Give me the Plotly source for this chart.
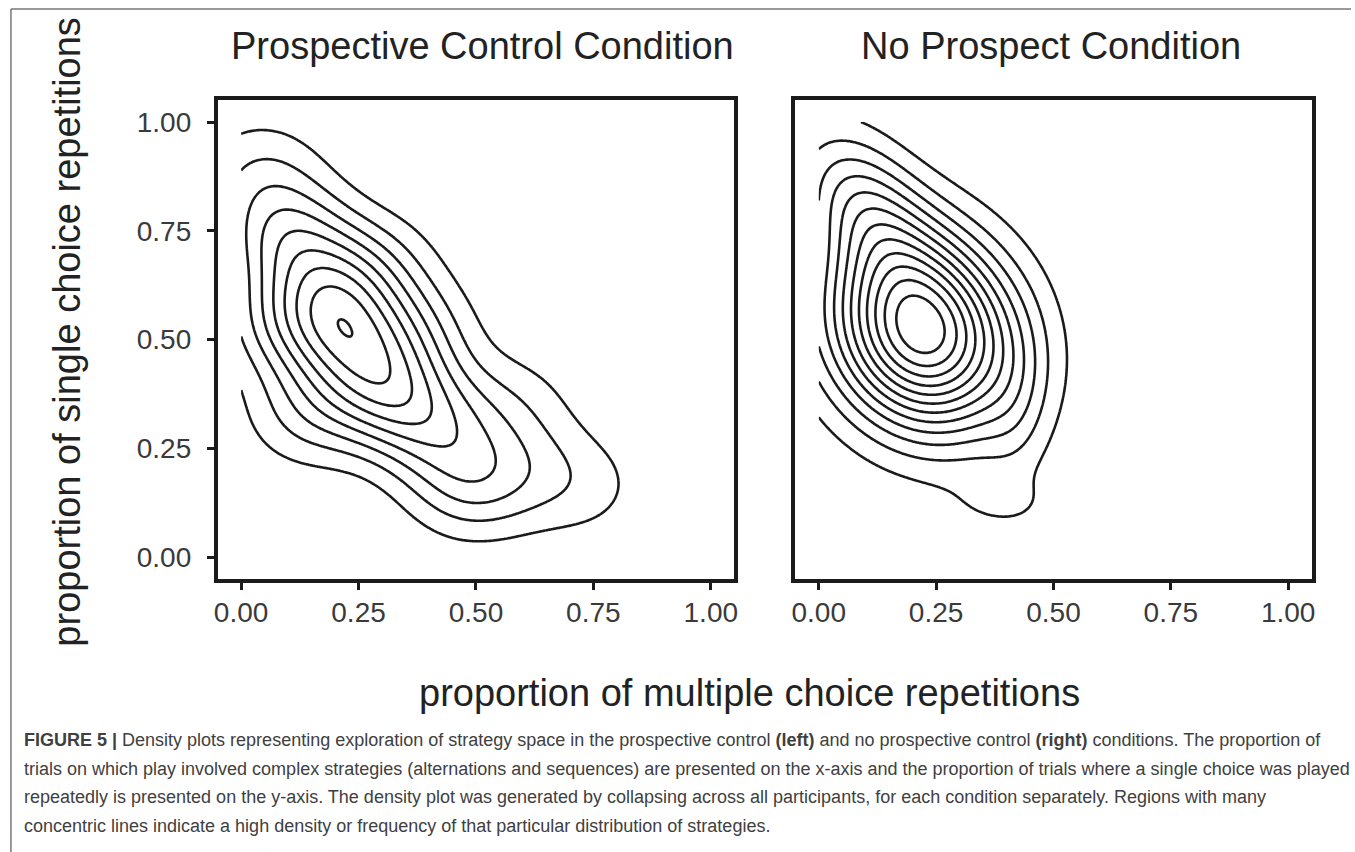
import numpy as np
import plotly.graph_objects as go

# ---------------- data ----------------
tick_vals = [0.0, 0.25, 0.5, 0.75, 1.0]
tick_text = ["0.00", "0.25", "0.50", "0.75", "1.00"]

panel_titles = ["Prospective Control Condition", "No Prospect Condition"]
x_title = "proportion of multiple choice repetitions"
y_title = "proportion of single choice repetitions"

# Prospective control: weighted clusters of participants (x, y, weight), smoothed by a kernel
pc_x = [0.04, 0.10, 0.19, 0.225, 0.31, 0.41, 0.49, 0.62, 0.74, 0.14, 0.37, 0.58, 0.29, 0.09]
pc_y = [0.885, 0.74, 0.62, 0.50, 0.385, 0.30, 0.17, 0.20, 0.16, 0.33, 0.52, 0.35, 0.67, 0.54]
pc_w = [0.88, 1.8, 1.95, 2.4, 2.35, 1.6, 1.4, 0.6, 0.55, 1.0, 1.0, 0.65, 0.75, 1.2]
pc_kernel_sx = 0.095
pc_kernel_sy = 0.09
pc_peak_steps = 9.04
pc_n_levels = 9

# No prospect: density as Gaussian components (centre, sd along / across, angle, height)
np_cx = [0.22, 0.10, 0.42, 0.39]
np_cy = [0.52, 0.80, 0.33, 0.12]
np_sd_along = [0.16, 0.14, 0.13, 0.085]
np_sd_across = [0.13, 0.08, 0.05, 0.045]
np_angle = [-65, -60, -90, 0]
np_height = [0.80, 0.25, 0.06, 0.05]
np_peak_steps = 12.9
np_n_levels = 12

caption_lines = [
    "<b>FIGURE 5 |</b> Density plots representing exploration of strategy space in the prospective control <b>(left)</b> and no prospective control <b>(right)</b> conditions. The proportion of",
    "trials on which play involved complex strategies (alternations and sequences) are presented on the x-axis and the proportion of trials where a single choice was played",
    "repeatedly is presented on the y-axis. The density plot was generated by collapsing across all participants, for each condition separately. Regions with many",
    "concentric lines indicate a high density or frequency of that particular distribution of strategies.",
]

# ---------------- helpers ----------------
W, H = 1355, 852
FONT = "Liberation Sans, Arial, sans-serif"

grid_x = np.linspace(0.0, 1.0, 301)
grid_y = np.linspace(0.0, 1.0, 301)
GX, GY = np.meshgrid(grid_x, grid_y)


def kde(xs, ys, ws, sx, sy):
    z = np.zeros_like(GX)
    for x0, y0, w in zip(xs, ys, ws):
        z += w * np.exp(-0.5 * (((GX - x0) / sx) ** 2 + ((GY - y0) / sy) ** 2))
    return z


def mixture(cx, cy, sa, sc, ang, hts):
    z = np.zeros_like(GX)
    for x0, y0, a, c, th, h in zip(cx, cy, sa, sc, ang, hts):
        r = np.radians(th)
        dx, dy = GX - x0, GY - y0
        s = dx * np.cos(r) + dy * np.sin(r)
        t = -dx * np.sin(r) + dy * np.cos(r)
        z += h * np.exp(-0.5 * (s ** 2 / a ** 2 + t ** 2 / c ** 2))
    return z


def px_x(p):
    return p / W


def px_y(p):
    return 1 - p / H


fig = go.Figure()

panels = [
    (kde(pc_x, pc_y, pc_w, pc_kernel_sx, pc_kernel_sy), pc_peak_steps, pc_n_levels, "x", "y"),
    (mixture(np_cx, np_cy, np_sd_along, np_sd_across, np_angle, np_height), np_peak_steps, np_n_levels, "x2", "y2"),
]
for z, peak_steps, n_lev, xa, ya in panels:
    step = z.max() / peak_steps
    fig.add_trace(go.Contour(
        x=grid_x, y=grid_y, z=z,
        autocontour=False,
        contours=dict(start=step, end=n_lev * step + step * 0.01, size=step, coloring="none", showlabels=False),
        line=dict(color="#1b1b1b", width=2.6),
        showscale=False, hoverinfo="skip",
        xaxis=xa, yaxis=ya,
    ))

axis_common = dict(
    range=[-0.05, 1.05], tickvals=tick_vals, ticktext=tick_text,
    ticks="outside", ticklen=7, tickwidth=3, tickcolor="#1b1b1b",
    showline=True, linewidth=3.5, linecolor="#1b1b1b", mirror=True,
    showgrid=False, zeroline=False,
    tickfont=dict(family=FONT, size=28, color="#3a3a3a"),
)

y_dom = [1 - 578.75 / H, 1 - 100.25 / H]
fig.update_layout(
    width=W, height=H,
    margin=dict(l=0, r=0, t=0, b=0),
    paper_bgcolor="white", plot_bgcolor="white",
    showlegend=False,
    xaxis=dict(domain=[214.9 / W, 734.6 / W], anchor="y", ticklabelstandoff=-1, **axis_common),
    yaxis=dict(domain=y_dom, anchor="x", ticklabelstandoff=10, **axis_common),
    xaxis2=dict(domain=[796.0 / W, 1315.4 / W], anchor="y2", ticklabelstandoff=-1, **axis_common),
    yaxis2=dict(domain=y_dom, anchor="x2", showticklabels=False, ticks="",
                **{k: v for k, v in axis_common.items() if k not in ("ticks",)}),
)

ann = []
ann.append(dict(text=panel_titles[0], x=px_x(481), y=px_y(46), xref="paper", yref="paper",
                showarrow=False, xanchor="center", yanchor="middle",
                font=dict(family=FONT, size=38, color="#222222")))
ann.append(dict(text=panel_titles[1], x=px_x(1053), y=px_y(46), xref="paper", yref="paper",
                showarrow=False, xanchor="center", yanchor="middle",
                font=dict(family=FONT, size=38, color="#222222")))
ann.append(dict(text=y_title, x=px_x(63), y=px_y(332), xref="paper", yref="paper", textangle=-90,
                showarrow=False, xanchor="center", yanchor="middle",
                font=dict(family=FONT, size=38, color="#222222")))
ann.append(dict(text=x_title, x=px_x(750), y=px_y(693), xref="paper", yref="paper",
                showarrow=False, xanchor="center", yanchor="middle",
                font=dict(family=FONT, size=38, color="#222222")))
cap_y = [740, 769, 797, 826]
for line, yy in zip(caption_lines, cap_y):
    ann.append(dict(text=line, x=px_x(18), y=px_y(yy), xref="paper", yref="paper",
                    showarrow=False, xanchor="left", yanchor="middle", align="left",
                    font=dict(family=FONT, size=18, color="#404040")))
fig.update_layout(annotations=ann)

fig.update_layout(shapes=[
    dict(type="line", xref="paper", yref="paper", x0=px_x(7), x1=1, y0=px_y(9), y1=px_y(9),
         line=dict(color="#777777", width=1.5)),
    dict(type="line", xref="paper", yref="paper", x0=px_x(7), x1=px_x(7), y0=px_y(9), y1=0,
         line=dict(color="#777777", width=1.5)),
])

fig.write_html("out.html")
